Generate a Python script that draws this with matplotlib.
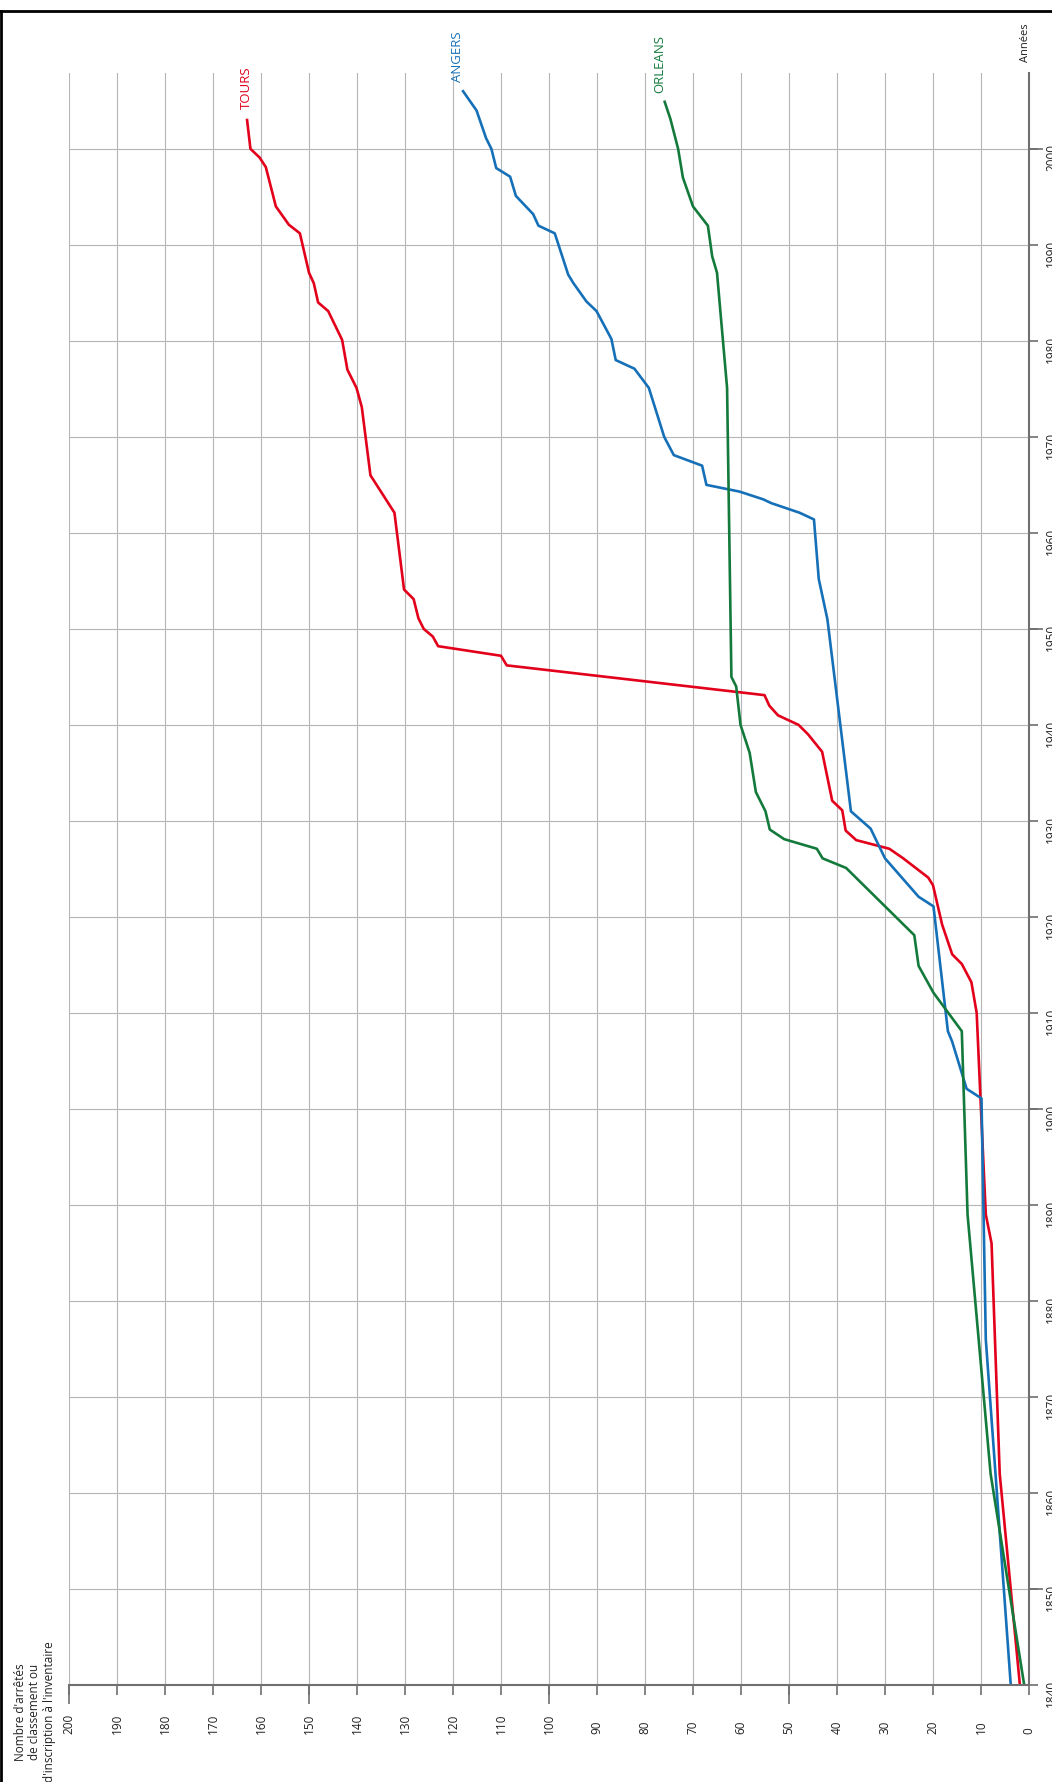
import numpy as np
import matplotlib
matplotlib.use('Agg')
import matplotlib.pyplot as plt
from matplotlib.ticker import FixedLocator
from matplotlib.lines import Line2D

plt.rcParams['font.family'] = ['Open Sans', 'DejaVu Sans']

# cumulative number of protection orders per city
tours_years = [1840, 1862, 1886, 1889, 1901, 1910, 1913.2, 1915.1, 1916.1, 1919.2,
               1923.3, 1924.1, 1926.1, 1927.1, 1928.0, 1929.0, 1931.1, 1932.1,
               1937.2, 1939.0, 1940.0, 1941.0, 1942.0, 1943.1, 1946.2, 1947.2,
               1948.2, 1949.2, 1950.0, 1951.1, 1953.1, 1954.1, 1962.1, 1966.0,
               1973.1, 1975.1, 1977.0, 1980.1, 1983.1, 1984.0, 1986.0, 1987.1,
               1991.2, 1992.1, 1994.0, 1998.1, 1999.1, 2000.0, 2003.0]
tours_vals = [1.9, 6.1, 7.8, 9.0, 10.1, 10.9, 12.0, 14.0, 16.0, 18.1,
              20.0, 21.0, 26.2, 29.1, 36.0, 38.2, 38.9, 41.0,
              43.1, 46.0, 48.0, 52.3, 54.1, 55.1, 108.8, 110.0,
              123.1, 124.2, 126.1, 127.2, 128.2, 130.2, 132.2, 137.2,
              139.0, 140.1, 142.0, 143.1, 146.0, 148.1, 149.0, 150.0,
              151.9, 154.2, 156.9, 159.0, 160.3, 162.2, 162.9]

angers_years = [1840, 1876, 1901.1, 1902.1, 1907.0, 1908.1, 1921.1, 1922.1, 1926.1,
                1929.2, 1931.0, 1951.0, 1955.2, 1961.4, 1962.1, 1963.1, 1963.5,
                1964.3, 1965.0, 1967.0, 1968.1, 1970.0, 1975.1, 1977.1, 1978.0,
                1980.2, 1983.1, 1984.1, 1986.0, 1986.9, 1991.2, 1992.0, 1993.2,
                1995.1, 1997.1, 1998.0, 2000.0, 2001.1, 2004.0, 2006.0]
angers_vals = [3.8, 9.0, 9.9, 13.0, 16.0, 16.9, 19.9, 23.0, 30.0,
               33.0, 37.1, 42.0, 43.8, 44.8, 47.8, 53.7, 55.4,
               60.3, 67.2, 68.1, 74.0, 76.0, 79.2, 82.2, 86.1,
               87.0, 90.1, 92.2, 94.9, 96.0, 98.8, 102.2, 103.3,
               106.9, 108.1, 111.0, 112.0, 113.1, 115.1, 117.9]

orleans_years = [1840, 1862, 1889, 1908.1, 1912.1, 1914.9, 1918.1, 1925.1, 1926.1,
                 1927.1, 1928.1, 1929.1, 1931.0, 1933.0, 1937.1, 1940.0, 1944.0,
                 1945.0, 1975.1, 1987.1, 1988.8, 1992.0, 1994.0, 1997.0, 2000.0,
                 2003.1, 2004.9]
orleans_vals = [1.0, 8.0, 12.8, 14.0, 19.9, 23.0, 23.9, 38.1, 43.0,
                44.2, 51.0, 54.0, 54.9, 56.9, 58.2, 60.1, 61.0,
                62.0, 62.9, 65.0, 66.0, 66.9, 70.0, 72.1, 73.1,
                74.7, 75.9]

value_ticks = np.arange(0, 201, 10)
year_ticks = np.arange(1840, 2001, 10)

red = '#e3001b'
blue = '#1570b8'
green = '#137a3c'
axis_grey = '#707070'

fig = plt.figure(figsize=(10.52, 17.82), dpi=100)
ax = fig.add_axes([69 / 1052, 97 / 1782, 960 / 1052, 1612 / 1782])

ax.plot(tours_vals, tours_years, color=red, lw=1.9)
ax.plot(angers_vals, angers_years, color=blue, lw=1.9)
ax.plot(orleans_vals, orleans_years, color=green, lw=1.9)

ax.set_xlim(200, 0)
ax.set_ylim(1840, 2007.9)

ax.set_xticks(value_ticks, labels=[str(v) for v in value_ticks], rotation=90,
              ha='left', va='center', rotation_mode='anchor')
ax.set_yticks(year_ticks, labels=[str(y) for y in year_ticks], rotation=90)
ax.xaxis.set_minor_locator(FixedLocator([50, 100, 150, 200]))
ax.yaxis.set_minor_locator(FixedLocator([1850, 1900, 1950, 2000]))
ax.xaxis.remove_overlapping_locs = False
ax.yaxis.remove_overlapping_locs = False
ax.yaxis.tick_right()

ax.grid(True, which='major', color='#b5b5b5', lw=0.8)
ax.set_axisbelow(True)

for side in ('top', 'left'):
    ax.spines[side].set_visible(False)
for side in ('bottom', 'right'):
    ax.spines[side].set_color(axis_grey)
    ax.spines[side].set_linewidth(1.5)

ax.tick_params(axis='x', which='major', direction='out', length=7, width=1.2,
               color=axis_grey, pad=28, labelsize=8.5, labelcolor='#222222')
ax.tick_params(axis='x', which='minor', direction='out', length=13.5, width=1.2,
               color=axis_grey)
ax.tick_params(axis='y', which='major', direction='out', length=6.5, width=1.2,
               color=axis_grey, pad=5, labelsize=8.5, labelcolor='#222222')
ax.tick_params(axis='y', which='minor', direction='out', length=10, width=1.2,
               color=axis_grey)

ax.text(163.0, 2004.1, 'TOURS', color=red, rotation=90, ha='center',
        va='bottom', fontsize=9.5)
ax.text(119.1, 2007.0, 'ANGERS', color=blue, rotation=90, ha='center',
        va='bottom', fontsize=9.5, clip_on=False)
ax.text(77.0, 2005.8, 'ORLEANS', color=green, rotation=90, ha='center',
        va='bottom', fontsize=9.5, clip_on=False)

fig.text(35 / 1052, 1 - 1712 / 1782,
         "Nombre d'arrêtés\nde classement ou\nd'inscription à l'inventaire",
         rotation=90, ha='center', va='center', multialignment='center',
         fontsize=8.5, color='#222222')
fig.text(1025 / 1052, 1 - 43 / 1782, 'Années', rotation=90, ha='center',
         va='center', fontsize=8, color='#222222')

# black frame on top and left
fig.add_artist(Line2D([0, 1], [1 - 11 / 1782] * 2, color='black', lw=2,
                      transform=fig.transFigure))
fig.add_artist(Line2D([1 / 1052] * 2, [0, 1 - 11 / 1782], color='black', lw=2,
                      transform=fig.transFigure))

fig.savefig('out.png', dpi=100)
